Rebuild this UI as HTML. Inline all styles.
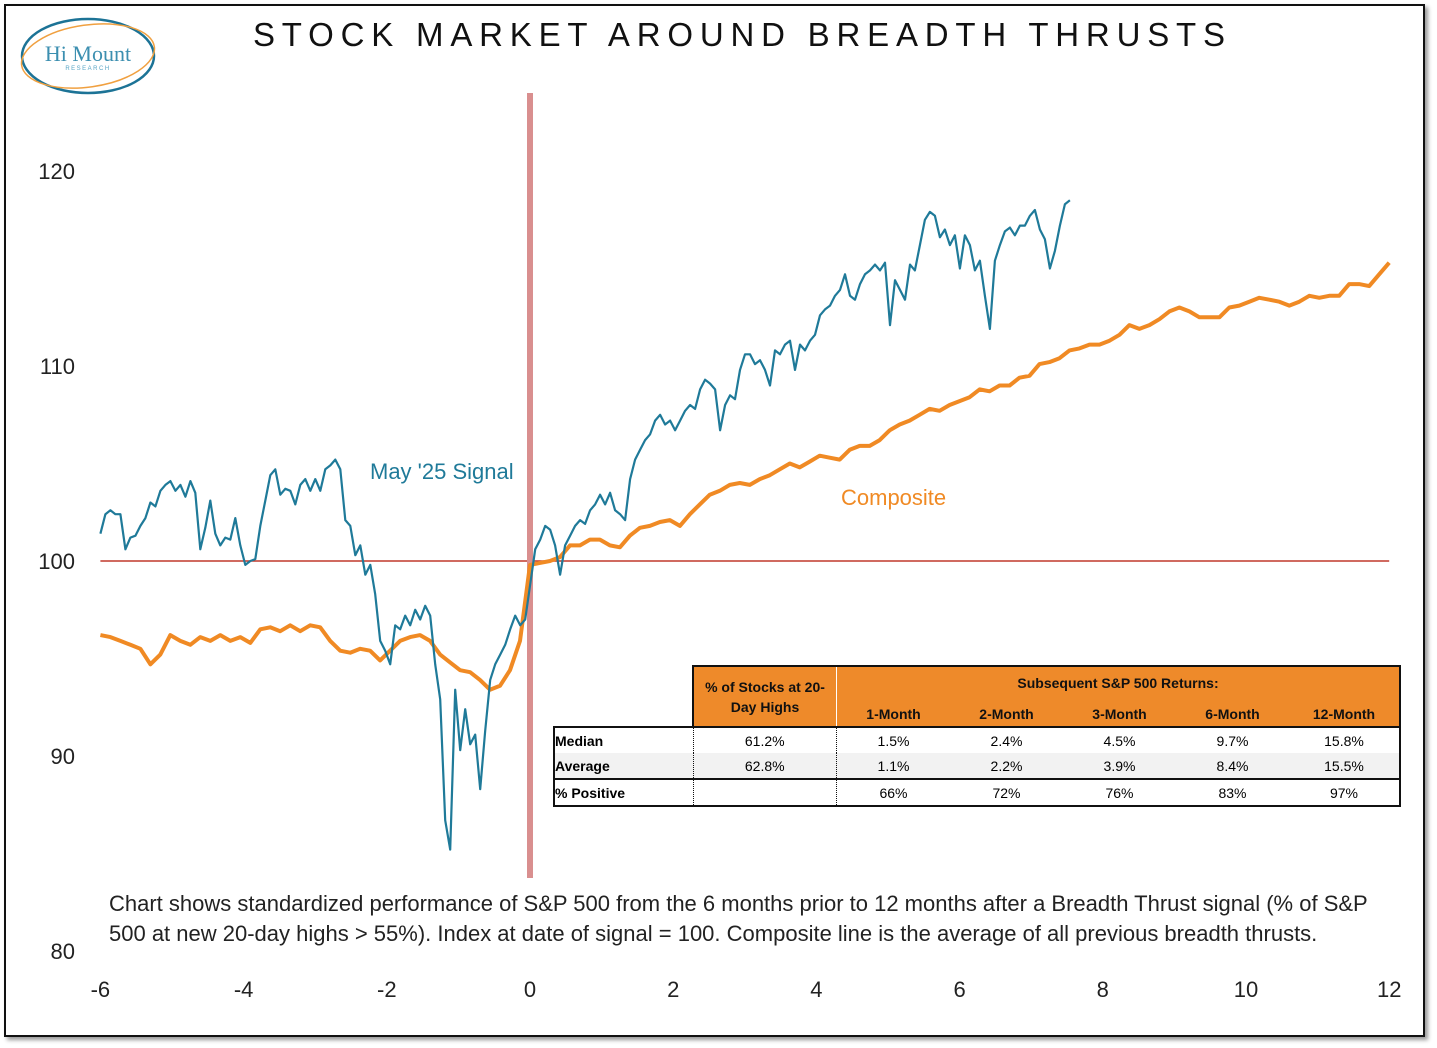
<!DOCTYPE html>
<html><head><meta charset="utf-8"><style>
body{margin:0;background:#fff;font-family:"Liberation Sans",sans-serif}
#wrap{position:relative;width:1437px;height:1048px;overflow:hidden}
#frame{position:absolute;left:4px;top:4px;width:1417px;height:1029px;border:2px solid #111;box-shadow:3px 3px 4px #999}
#title{position:absolute;left:253px;top:16px;font-size:33px;letter-spacing:6.8px;color:#111;white-space:nowrap}
.note{position:absolute;left:109px;font-size:22px;color:#222;white-space:nowrap}
table{position:absolute;left:553px;top:665px;border-collapse:collapse;font-size:14px;font-family:"Liberation Sans Narrow","Liberation Sans",sans-serif}
td{padding:0;text-align:center;height:25px}
.h{background:#ee8a2a;font-weight:bold;color:#111}
</style></head><body>
<div id="wrap">
<div id="frame"></div>
<svg style="position:absolute;left:0;top:0" width="1437" height="1048" id="svg">
 <g>
  <ellipse cx="88" cy="56" rx="66" ry="37" fill="none" stroke="#1c7396" stroke-width="2.5"/>
  <ellipse cx="88" cy="56" rx="67" ry="31" fill="none" stroke="#f0a040" stroke-width="1.5" transform="rotate(-8 88 56)"/>
  <text x="88" y="61" text-anchor="middle" font-family="Liberation Serif" font-size="22" fill="#3c8fb0">Hi Mount</text>
  <text x="88" y="70" text-anchor="middle" font-size="6" letter-spacing="1.5" fill="#5aa5c5">RESEARCH</text>
 </g>
 <g id="axes"></g>
 <g id="marks"></g>
 <text x="370" y="479" font-size="22" fill="#1f7a99">May '25 Signal</text>
 <text x="841" y="505" font-size="22" fill="#f08a24">Composite</text>
</svg>
<div id="title">STOCK MARKET AROUND BREADTH THRUSTS</div>
<table>
<tr style="height:35px"><td style="width:138px"></td><td class="h" rowspan="2" style="width:142px;border:2px solid #111;border-right:1px solid #fff;line-height:20px">% of Stocks at 20-<br>Day Highs</td><td class="h" colspan="5" style="border-top:2px solid #111;border-right:2px solid #111;padding-top:8px;vertical-align:top">Subsequent S&amp;P 500 Returns:</td></tr>
<tr style="height:24px"><td></td><td class="h" style="width:113px">1-Month</td><td class="h" style="width:113px">2-Month</td><td class="h" style="width:113px">3-Month</td><td class="h" style="width:113px">6-Month</td><td class="h" style="width:110px;border-right:2px solid #111">12-Month</td></tr>
<tr style="border-top:2px solid #111;border-left:2px solid #111;border-right:2px solid #111"><td style="text-align:left;font-weight:bold;border-right:1px dotted #111">Median</td><td style="border-right:1px dotted #111">61.2%</td><td>1.5%</td><td>2.4%</td><td>4.5%</td><td>9.7%</td><td>15.8%</td></tr>
<tr style="background:#f2f2f2;border-left:2px solid #111;border-right:2px solid #111"><td style="text-align:left;font-weight:bold;border-right:1px dotted #111">Average</td><td style="border-right:1px dotted #111">62.8%</td><td>1.1%</td><td>2.2%</td><td>3.9%</td><td>8.4%</td><td>15.5%</td></tr>
<tr style="border:2px solid #111"><td style="text-align:left;font-weight:bold;border-right:1px dotted #111">% Positive</td><td style="border-right:1px dotted #111"></td><td>66%</td><td>72%</td><td>76%</td><td>83%</td><td>97%</td></tr>
</table>
<div class="note" style="top:891px">Chart shows standardized performance of S&amp;P 500 from the 6 months prior to 12 months after a Breadth Thrust signal (% of S&amp;P</div>
<div class="note" style="top:921px">500 at new 20-day highs &gt; 55%). Index at date of signal = 100. Composite line is the average of all previous breadth thrusts.</div>
</div>
<script>
const xTicks=[-6,-4,-2,0,2,4,6,8,10,12];
const yTicks=[80,90,100,110,120];
const signalStart=-6, signalEnd=7.54;
const signalValues=[101.4,102.4,102.6,102.4,102.4,100.6,101.2,101.3,101.8,102.2,103.0,102.8,103.6,103.9,104.1,103.6,103.9,103.3,104.1,103.5,100.6,101.7,103.1,101.4,100.8,101.2,101.1,102.2,100.8,99.8,100.0,100.1,101.8,103.1,104.4,104.7,103.4,103.7,103.6,102.9,103.9,104.2,103.6,104.2,103.6,104.7,104.9,105.2,104.7,102.1,101.8,100.3,100.8,99.3,99.8,98.3,95.9,95.4,94.7,96.7,96.5,97.2,96.7,97.5,97.0,97.7,97.2,94.7,92.9,86.7,85.2,93.4,90.3,92.4,90.6,91.1,88.3,91.3,93.9,94.7,95.2,95.7,96.5,97.2,96.7,97.0,98.8,100.6,101.1,101.8,101.6,100.8,99.3,100.8,101.3,101.8,102.1,101.9,102.6,102.9,103.4,102.9,103.5,102.6,102.4,102.1,104.2,105.2,105.7,106.2,106.5,107.2,107.5,107.0,107.2,106.7,107.2,107.7,108.0,107.8,108.8,109.3,109.1,108.8,106.7,108.0,108.5,108.3,109.8,110.6,110.6,110.1,110.3,109.8,109.0,110.8,110.6,111.1,111.3,109.8,111.1,110.8,111.3,111.6,112.6,112.9,113.1,113.6,113.9,114.7,113.6,113.4,114.2,114.7,114.9,115.2,114.9,115.3,112.1,114.4,113.9,113.4,115.2,114.9,116.2,117.5,117.9,117.7,116.6,117.0,116.2,116.7,115.0,116.7,116.2,114.9,115.4,113.6,111.9,115.4,116.2,116.9,117.1,116.7,117.2,117.2,117.7,118.0,117.0,116.5,115.0,115.9,117.2,118.3,118.5];
const compStart=-6, compEnd=12;
const compositeValues=[96.2,96.1,95.9,95.7,95.5,94.7,95.2,96.2,95.9,95.7,96.1,95.9,96.2,95.9,96.1,95.8,96.5,96.6,96.4,96.7,96.4,96.7,96.6,95.9,95.4,95.3,95.5,95.4,94.9,95.4,95.9,96.1,96.2,95.9,95.2,94.8,94.4,94.3,93.9,93.4,93.6,94.4,95.9,99.8,99.9,100.0,100.2,100.8,100.8,101.1,101.1,100.8,100.7,101.3,101.7,101.8,102.0,102.1,101.8,102.4,102.9,103.4,103.6,103.9,104.0,103.9,104.2,104.4,104.7,105.0,104.8,105.1,105.4,105.3,105.2,105.7,105.9,105.9,106.2,106.7,107.0,107.2,107.5,107.8,107.7,108.0,108.2,108.4,108.8,108.7,109.0,109.0,109.4,109.5,110.1,110.2,110.4,110.8,110.9,111.1,111.1,111.3,111.6,112.1,111.9,112.1,112.4,112.8,113.0,112.8,112.5,112.5,112.5,113.0,113.1,113.3,113.5,113.4,113.3,113.1,113.3,113.6,113.5,113.6,113.6,114.2,114.2,114.1,114.7,115.3];
const NS="http://www.w3.org/2000/svg";
const X=v=>530+v*71.6, Y=v=>561-(v-100)*19.5;
function mk(tag,attrs,parent){const e=document.createElementNS(NS,tag);for(const k in attrs)e.setAttribute(k,attrs[k]);parent.appendChild(e);return e;}
const ax=document.getElementById('axes'), mg=document.getElementById('marks');
xTicks.forEach(t=>{const e=mk('text',{x:X(t),y:997,'text-anchor':'middle','font-size':22,fill:'#222'},ax);e.textContent=t;

});
yTicks.forEach(t=>{const e=mk('text',{x:75,y:Y(t)+8,'text-anchor':'end','font-size':22,fill:'#222'},ax);e.textContent=t;

});
const base=mk('line',{x1:X(-6),x2:X(12),y1:Y(100),y2:Y(100),stroke:'#c0392b','stroke-width':1.5},mg);


const sig=mk('line',{x1:X(0),x2:X(0),y1:93,y2:878,stroke:'#d98f8f','stroke-width':6},mg);


function path(vals,s,e){const n=vals.length;return vals.map((v,i)=>(i?'L':'M')+X(s+(e-s)*i/(n-1)).toFixed(1)+','+Y(v).toFixed(1)).join('');}
const cp=mk('path',{d:path(compositeValues,compStart,compEnd),fill:'none',stroke:'#f08a24','stroke-width':4,'stroke-linejoin':'round'},mg);


const sp=mk('path',{d:path(signalValues,signalStart,signalEnd),fill:'none',stroke:'#1f7a99','stroke-width':2.2,'stroke-linejoin':'round'},mg);


</script>
</body></html>
